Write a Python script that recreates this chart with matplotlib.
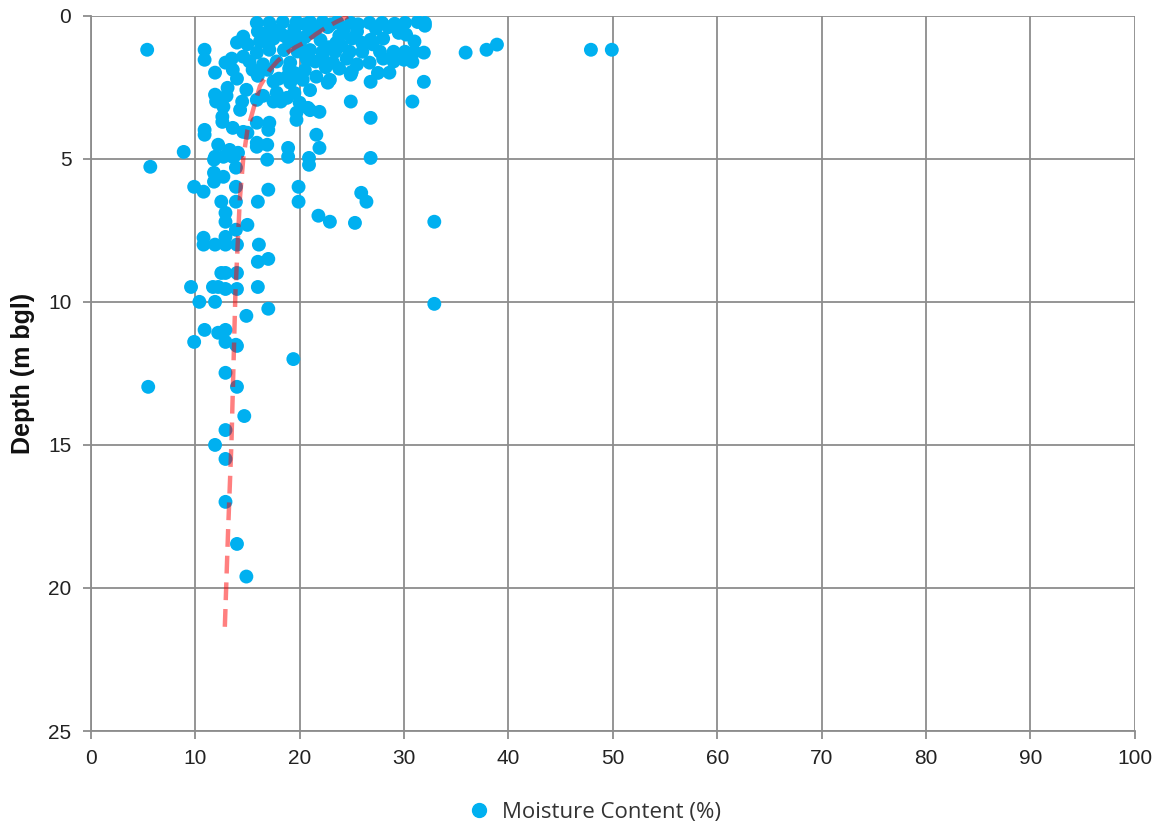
import matplotlib
matplotlib.use("Agg")
import matplotlib.pyplot as plt
from matplotlib.lines import Line2D
from matplotlib.font_manager import FontProperties

# Moisture content (%) and depth (m bgl)
moisture = [
    # shallow row ~0.25 m
    15.9, 17.1, 18.4, 19.7, 20.5, 21.0, 22.2, 23.0, 23.6, 24.9, 25.6, 26.7, 27.9, 29.1, 30.1, 31.3, 32.0,
    # ~0.4-0.7 m
    16.9, 18.0, 19.5, 21.5, 22.7, 24.2, 27.3, 28.5, 30.2,
    16.0, 18.5, 21.0, 23.8, 25.5, 19.5, 29.5, 32.0,
    # ~0.7-1.0 m
    14.0, 14.6, 26.8, 26.9, 17.5, 19.0, 20.5, 22.0, 23.5, 25.0,
    26.0, 17.0, 20.0, 15.0, 16.2, 27.0, 28.0, 31.0,
    # ~1.0-1.4 m
    15.9, 17.1, 14.6, 22.2, 23.4, 24.8, 26.0, 27.7, 29.0, 30.1, 31.0, 31.9, 18.5, 19.8, 21.0, 20.4,
    22.8, 24.0,
    # ~1.5-1.7 m
    12.9, 19.1, 20.7, 22.2, 23.2, 26.7, 30.0, 30.8, 10.9, 10.9, 17.8, 24.5, 28.0, 16.5,
    15.2, 21.5, 25.5, 13.5, 29.0,
    # ~1.8-2.3 m
    11.9, 13.6, 15.5, 16.9, 18.8, 20.3, 21.6, 22.9, 25.0, 28.6, 24.9, 26.8, 31.9, 19.5, 18.0,
    16.0, 17.5, 19.0, 20.5, 22.5, 23.8, 14.0, 27.5,
    # ~2.3-3.4 m
    13.1, 14.9, 17.8, 19.1, 22.7, 11.9, 12.0, 15.9, 18.8, 20.0, 24.9, 30.8, 12.7, 20.8, 21.9, 14.3,
    13.0, 14.5, 16.5, 17.5, 18.2, 19.5, 21.0, 21.0,
    # ~3.4-4.2 m
    12.6, 12.6, 19.7, 19.7, 13.6, 14.6, 15.9, 17.1, 17.0, 10.9, 10.9, 26.8, 21.6,
    # ~4.4-5.3 m
    12.2, 13.3, 11.9, 13.6, 14.1, 15.9, 16.9, 15.9, 16.9, 18.9, 18.9, 21.9, 20.9, 20.9, 8.9, 26.8, 15.0,
    # 5-10 m
    5.7, 9.9, 10.8, 11.8, 11.8, 12.7, 11.8, 12.7, 13.7, 13.9, 13.9, 17.0, 12.5, 13.9, 16.0,
    19.9, 19.9, 25.9, 26.4, 12.9, 12.9, 15.0, 13.9, 21.8, 22.9, 25.3, 32.9,
    10.8, 10.8, 11.9, 12.9, 12.9, 14.0, 16.1, 16.0, 17.0, 12.5, 12.9, 14.0,
    9.6, 11.7, 12.2, 12.9, 14.0, 16.0, 10.4, 11.9, 32.9, 17.0, 14.9,
    # deeper than 10 m
    10.9, 12.2, 12.9, 9.9, 12.9, 13.9, 14.0, 19.4, 12.9, 5.5, 14.0, 14.7, 12.9, 11.9, 12.9, 12.9, 14.0, 14.9,
    # outliers near surface
    5.4, 35.9, 37.9, 38.9, 47.9, 49.9,
]
depth = [
    0.25, 0.25, 0.22, 0.22, 0.30, 0.22, 0.22, 0.30, 0.22, 0.25, 0.30, 0.25, 0.25, 0.28, 0.25, 0.22, 0.25,
    0.59, 0.50, 0.45, 0.50, 0.40, 0.50, 0.45, 0.40, 0.66,
    0.55, 0.70, 0.60, 0.70, 0.55, 0.60, 0.60, 0.35,
    0.94, 0.73, 0.84, 0.90, 0.80, 0.90, 0.75, 0.85, 0.95, 0.80,
    0.95, 1.00, 1.00, 1.00, 0.90, 1.00, 0.80, 0.90,
    1.29, 1.19, 1.43, 1.26, 1.26, 1.26, 1.26, 1.26, 1.26, 1.26, 1.26, 1.29, 1.20, 1.25, 1.20, 1.30,
    1.10, 1.05,
    1.64, 1.64, 1.54, 1.43, 1.64, 1.64, 1.54, 1.61, 1.19, 1.54, 1.60, 1.50, 1.50, 1.70,
    1.60, 1.60, 1.70, 1.50, 1.60,
    1.99, 1.89, 1.89, 1.89, 2.13, 2.24, 2.13, 2.24, 1.96, 1.99, 2.06, 2.31, 2.31, 2.00, 2.20,
    2.10, 2.30, 1.85, 1.90, 1.80, 1.85, 2.20, 2.00,
    2.52, 2.59, 2.69, 2.34, 2.34, 2.76, 3.00, 2.94, 2.87, 3.04, 3.00, 3.00, 3.18, 3.22, 3.36, 3.29,
    2.80, 3.00, 2.80, 3.00, 3.00, 2.70, 2.60, 3.30,
    3.53, 3.71, 3.39, 3.64, 3.92, 4.06, 3.74, 3.74, 3.99, 3.99, 4.16, 3.57, 4.16,
    4.51, 4.69, 4.93, 4.93, 4.79, 4.44, 4.51, 4.58, 5.03, 4.62, 4.93, 4.62, 4.97, 5.21, 4.76, 4.97, 4.09,
    5.28, 5.98, 6.15, 5.49, 5.80, 5.63, 5.03, 4.93, 4.93, 5.31, 5.98, 6.08, 6.50, 6.50, 6.50,
    5.98, 6.50, 6.19, 6.50, 6.89, 7.20, 7.31, 7.48, 6.99, 7.20, 7.24, 7.20,
    7.76, 8.00, 8.00, 7.73, 8.00, 8.00, 8.00, 8.60, 8.50, 8.99, 8.99, 8.99,
    9.48, 9.48, 9.48, 9.55, 9.55, 9.48, 10.00, 10.00, 10.07, 10.24, 10.49,
    10.98, 11.08, 10.98, 11.40, 11.40, 11.50, 11.54, 12.00, 12.48, 12.97, 12.97, 13.99, 14.48, 15.00, 15.49, 16.99, 18.46, 19.60,
    1.19, 1.29, 1.19, 1.01, 1.19, 1.19,
]

# Trend line
trend_x = [24.64, 23.5, 22.5, 21.5, 20.65, 19.6, 18.73, 17.9, 17.15, 16.19, 15.55, 15.0, 14.6, 14.27, 13.85, 13.47, 13.15, 12.83]
trend_d = [0.02, 0.22, 0.42, 0.66, 0.90, 1.10, 1.31, 1.58, 1.89, 2.47, 3.29, 4.00, 5.00, 6.43, 9.70, 14.93, 18.00, 21.45]

x_ticks = [0, 10, 20, 30, 40, 50, 60, 70, 80, 90, 100]
y_ticks = [0, 5, 10, 15, 20, 25]

plt.rcParams['font.family'] = ['Liberation Sans', 'DejaVu Sans']

fig = plt.figure(figsize=(11.64, 8.27), dpi=100)
ax = fig.add_axes([0.078, 0.116, 0.897, 0.865])

grid_c = '#8c8c8c'
ax.scatter(moisture, depth, s=100, color='#00b0f0', edgecolors='none', zorder=3)
ax.plot(trend_x, trend_d, color='#ff0000', alpha=0.5, lw=3.2,
        linestyle=(0, (4, 2)), zorder=4, solid_capstyle='butt', dash_capstyle='butt')

ax.set_xlim(0, 100)
ax.set_ylim(25, 0)
ax.set_xticks(x_ticks)
ax.set_yticks(y_ticks)
ax.grid(True, color=grid_c, lw=1.3, zorder=0)
ax.set_axisbelow(True)
for side in ['top', 'right']:
    ax.spines[side].set_visible(False)
for side in ['left', 'bottom']:
    ax.spines[side].set_color(grid_c)
    ax.spines[side].set_linewidth(1.3)
ax.tick_params(axis='both', colors=grid_c, labelcolor='#222222',
               length=6, width=1.3, direction='out')
ax.tick_params(axis='y', pad=8)
ax.tick_params(axis='x', pad=7)
tick_font = FontProperties(family=['Liberation Sans', 'DejaVu Sans'], size=15)
for lab in ax.get_xticklabels() + ax.get_yticklabels():
    lab.set_fontproperties(tick_font)
ax.set_ylabel('Depth (m bgl)', fontsize=18, fontweight='bold', labelpad=9, color='#111111',
              family=['Liberation Sans', 'DejaVu Sans'])

handle = Line2D([], [], marker='o', linestyle='none', color='#00b0f0', markersize=10)
fig.legend([handle], ['Moisture Content (%)'], loc='center', bbox_to_anchor=(0.506, 0.018),
           frameon=False, handletextpad=0.05, labelcolor='#333333',
           prop=FontProperties(family=['Open Sans', 'DejaVu Sans'], size=16))

fig.savefig('out.png', dpi=100)
